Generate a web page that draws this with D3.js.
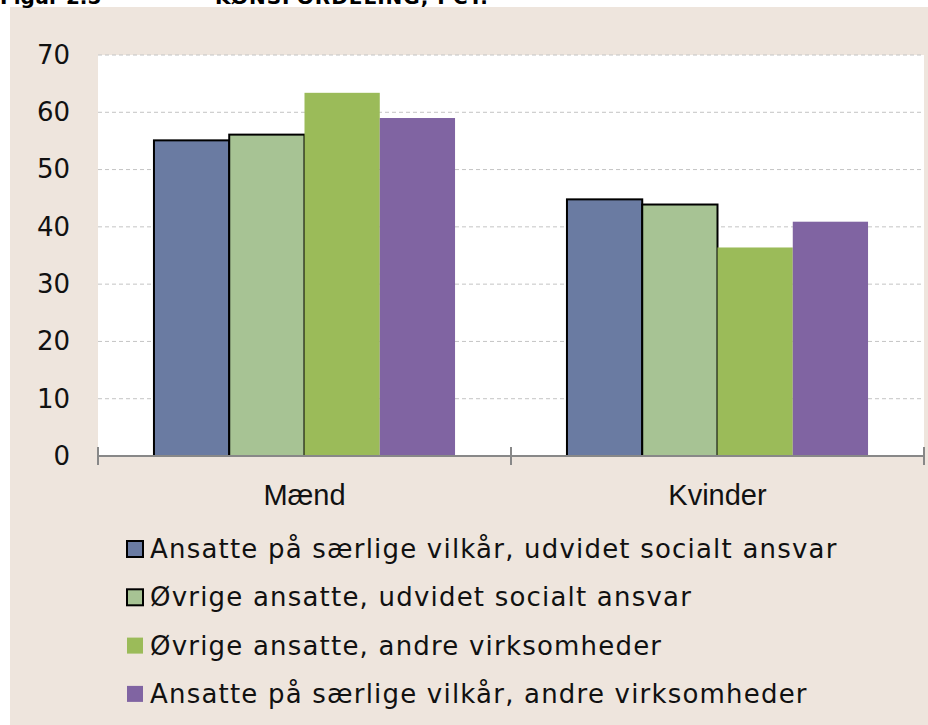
<!DOCTYPE html>
<html>
<head>
<meta charset="utf-8">
<script src="https://cdn.jsdelivr.net/npm/d3@7"></script>
<style>
  html, body { margin: 0; padding: 0; background: #fff; }
  svg { display: block; }
</style>
</head>
<body>
<div id="chart"></div>
<script>
// data
const categories = ['Mænd', 'Kvinder'];
const seriesNames = [
  'Ansatte på særlige vilkår, udvidet socialt ansvar',
  'Øvrige ansatte, udvidet socialt ansvar',
  'Øvrige ansatte, andre virksomheder',
  'Ansatte på særlige vilkår, andre virksomheder'
];
const serie1 = [55.1, 44.8];
const serie2 = [56.1, 43.9];
const serie3 = [63.4, 36.4];
const serie4 = [59.0, 40.9];
const yTicks = [0, 10, 20, 30, 40, 50, 60, 70];

const seriesValues = [serie1, serie2, serie3, serie4];
const colors = ['#6a7ba2', '#a7c394', '#9bbb59', '#8064a2'];
const outlined = [true, true, false, false];

const width = 928, height = 725;
const plot = { left: 98, right: 924, top: 55, bottom: 456 };
const sans = 'Verdana, "DejaVu Sans", sans-serif';

const svg = d3.select('#chart').append('svg')
  .attr('width', width)
  .attr('height', height);

// beige panel
svg.append('rect')
  .attr('x', 10).attr('y', 7)
  .attr('width', width - 10).attr('height', height - 7)
  .attr('fill', '#eee5dd');

// title, cut off at the top of the picture like in the source
svg.append('text')
  .attr('x', 0).attr('y', 4)
  .attr('font-family', sans)
  .attr('font-weight', 'bold')
  .attr('font-size', 20)
  .text('Figur 2.5');
svg.append('text')
  .attr('x', 215).attr('y', 4)
  .attr('font-family', sans)
  .attr('font-weight', 'bold')
  .attr('font-size', 20)
  .attr('letter-spacing', 1)
  .text('KØNSFORDELING, PCT.');

// white plot area
svg.append('rect')
  .attr('x', plot.left).attr('y', plot.top)
  .attr('width', plot.right - plot.left).attr('height', plot.bottom - plot.top)
  .attr('fill', '#fff');

const y = d3.scaleLinear().domain([0, 70]).range([plot.bottom, plot.top]);

const x0 = d3.scaleBand()
  .domain(categories)
  .range([plot.left, plot.right])
  .paddingInner(0.271)
  .paddingOuter(0.1355);

const x1 = d3.scaleBand()
  .domain(d3.range(seriesNames.length))
  .range([0, x0.bandwidth()]);

// dashed gridlines
svg.append('g')
  .selectAll('line')
  .data(yTicks.filter(d => d > 0))
  .join('line')
    .attr('x1', plot.left).attr('x2', plot.right)
    .attr('y1', d => y(d)).attr('y2', d => y(d))
    .attr('stroke', '#c4c4c4')
    .attr('stroke-width', 1)
    .attr('stroke-dasharray', '4,3');

// y axis labels
const yAxis = svg.append('g')
  .attr('transform', `translate(${plot.left},0)`)
  .call(d3.axisLeft(y).tickValues(yTicks).tickSize(0).tickPadding(28));
yAxis.select('.domain').remove();
yAxis.selectAll('text')
  .attr('font-family', sans)
  .attr('font-size', 26)
  .attr('fill', '#111');

// bars
const groups = svg.append('g')
  .selectAll('g')
  .data(categories)
  .join('g')
    .attr('transform', d => `translate(${x0(d)},0)`);

groups.selectAll('rect')
  .data((c, ci) => seriesValues.map((vals, si) => ({ si, value: vals[ci] })))
  .join('rect')
    .attr('x', d => x1(d.si))
    .attr('width', x1.bandwidth())
    .attr('y', d => y(d.value))
    .attr('height', d => y(0) - y(d.value))
    .attr('fill', d => colors[d.si])
    .attr('stroke', d => outlined[d.si] ? '#000' : 'none')
    .attr('stroke-width', 2);

// x axis
const xAxis = svg.append('g')
  .attr('transform', `translate(0,${plot.bottom})`);
xAxis.append('line')
  .attr('x1', plot.left).attr('x2', plot.right)
  .attr('stroke', '#888').attr('stroke-width', 2);
const boundaries = [plot.left, (x0(categories[0]) + x0.bandwidth() + x0(categories[1])) / 2, plot.right];
xAxis.selectAll('.tick-mark')
  .data(boundaries)
  .join('line')
    .attr('class', 'tick-mark')
    .attr('x1', d => d).attr('x2', d => d)
    .attr('y1', -9).attr('y2', 9)
    .attr('stroke', '#888').attr('stroke-width', 2);

xAxis.selectAll('.cat-label')
  .data(categories)
  .join('text')
    .attr('class', 'cat-label')
    .attr('x', d => x0(d) + x0.bandwidth() / 2)
    .attr('y', 49)
    .attr('text-anchor', 'middle')
    .attr('font-family', '"Liberation Sans", Arial, sans-serif')
    .attr('font-size', 29)
    .attr('fill', '#111')
    .text(d => d);

// legend
const legend = svg.append('g')
  .attr('transform', 'translate(127,549)');
const items = legend.selectAll('g')
  .data(seriesNames)
  .join('g')
    .attr('transform', (d, i) => `translate(0,${i * 48.3})`);
items.append('rect')
  .attr('x', 0).attr('y', -8)
  .attr('width', 16).attr('height', 16)
  .attr('fill', (d, i) => colors[i])
  .attr('stroke', (d, i) => outlined[i] ? '#000' : 'none')
  .attr('stroke-width', 2);
items.append('text')
  .attr('x', 23).attr('y', 9)
  .attr('font-family', sans)
  .attr('font-size', 26)
  .attr('letter-spacing', 1.2)
  .attr('fill', '#111')
  .text(d => d);
</script>
</body>
</html>
